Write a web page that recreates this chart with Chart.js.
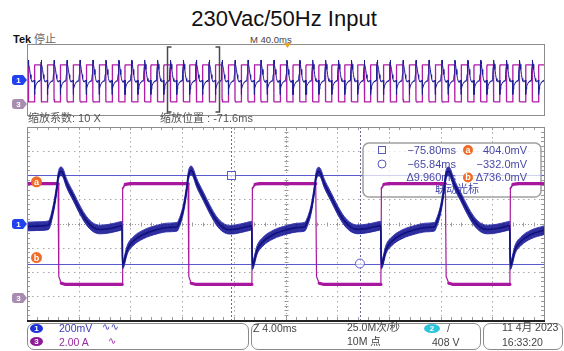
<!DOCTYPE html>
<html>
<head>
<meta charset="utf-8">
<script src="https://cdn.jsdelivr.net/npm/chart.js@4.4.1/dist/chart.umd.min.js"></script>
<style>
  html, body { margin: 0; padding: 0; background: #fff; width: 564px; height: 351px; overflow: hidden;
    font-family: "Liberation Sans", "Noto Sans CJK SC", sans-serif; }
  .t { position: absolute; white-space: nowrap; line-height: 1; }
  .cjk { font-family: "Liberation Sans", "Noto Sans CJK SC", sans-serif; }
  .box { position: absolute; border: 1px solid #8a8a8a; border-radius: 7px; box-sizing: border-box; background: #fff; }
  .oval { position: absolute; width: 13px; height: 9px; border-radius: 50%; color: #fff; font: bold 8px "Liberation Sans";
    text-align: center; line-height: 9px; }
  canvas { position: absolute; left: 0; }
</style>
</head>
<body>

<div class="t" style="left:0;width:568px;top:8px;text-align:center;font-size:22px;color:#111;">230Vac/50Hz Input</div>
<div class="t" style="left:13px;top:34px;font-size:11px;font-weight:bold;color:#111;">Tek</div>
<div class="t cjk" style="left:34px;top:34px;font-size:11px;color:#666;">停止</div>
<div class="t" style="left:250px;top:35px;font-size:9.5px;color:#444;">M 40.0ms</div>

<canvas id="overview" width="564" height="80" style="top:40px"></canvas>

<div class="t cjk" style="left:28px;top:113px;font-size:11px;color:#555;">缩放系数: 10 X</div>
<div class="t cjk" style="left:160px;top:113px;font-size:11px;color:#555;">缩放位置 : -71.6ms</div>

<canvas id="zoomView" width="564" height="206" style="top:120px"></canvas>

<!-- status bar -->
<div class="box" style="left:27px;top:323px;width:222px;height:27px;"></div>
<div class="box" style="left:251px;top:323px;width:230px;height:27px;"></div>
<div class="box" style="left:483px;top:323px;width:80px;height:27px;"></div>

<div class="oval" style="left:30px;top:324px;background:#1c33d8;">1</div>
<div class="t" style="left:59px;top:323px;font-size:10.5px;color:#3a3ab8;">200mV</div>
<div class="t" style="left:102px;top:322px;font-size:10px;color:#3a3ab8;font-family:'DejaVu Sans';">∿∿</div>
<div class="oval" style="left:30px;top:337px;background:#8e1a9a;">3</div>
<div class="t" style="left:59px;top:337px;font-size:10.5px;color:#9a2aa0;">2.00 A</div>
<div class="t" style="left:108px;top:336px;font-size:10px;color:#9a2aa0;font-family:'DejaVu Sans';">∿</div>

<div class="t" style="left:253px;top:323px;font-size:10.5px;color:#444;">Z 4.00ms</div>
<div class="t cjk" style="left:347px;top:322px;font-size:10.5px;color:#444;">25.0M次/秒</div>
<div class="t cjk" style="left:347px;top:336px;font-size:10.5px;color:#444;">10M 点</div>
<div class="oval" style="left:424px;top:324px;width:16px;background:#2ec5dc;">2</div>
<div class="t" style="left:447px;top:323px;font-size:10.5px;color:#444;">/</div>
<div class="t" style="left:432px;top:337px;font-size:10.5px;color:#444;">408 V</div>

<div class="t cjk" style="left:502px;top:322px;font-size:10.5px;color:#444;">11 4月 2023</div>
<div class="t" style="left:502px;top:337px;font-size:10.5px;color:#444;">16:33:20</div>

<script>
// Zoomed window: 4 ms/div, 10 divisions, centred on the zoom position
const zoomPosMs = -71.6;
const msPerDiv = 4;
const voltsPerDiv = 0.2;   // CH1 200 mV/div
const ampsPerDiv = 2.0;    // CH3 2.00 A/div
const recordMs = 400;      // main record: 40 ms/div

// CH1 trace (V) over the zoom window
const ch1Ms = [
  -91.60, -90.80, -89.95, -89.57, -89.31,
  -89.18, -89.08, -88.95, -88.80, -88.56, -88.02, -87.48, -87.01, -86.47, -85.93, -85.16, -84.38, -84.25,
  -84.21, -84.13, -83.84, -83.38, -82.61, -81.53, -80.73, -79.98,
  -79.89, -79.51, -79.25,
  -79.12, -79.02, -78.89, -78.74, -78.50, -77.96, -77.42, -76.95, -76.41, -75.87, -75.10, -74.32, -74.21,
  -74.17, -74.09, -73.80, -73.34, -72.57, -71.49, -70.69, -70.10,
  -70.01, -69.63, -69.37,
  -69.24, -69.14, -69.01, -68.86, -68.62, -68.08, -67.54, -67.07, -66.53, -65.99, -65.22, -64.44, -64.23,
  -64.19, -64.11, -63.82, -63.36, -62.59, -61.51, -60.71, -60.07,
  -59.98, -59.60, -59.34,
  -59.21, -59.11, -58.98, -58.83, -58.59, -58.05, -57.51, -57.04, -56.50, -55.96, -55.19, -54.41, -54.25,
  -54.21, -54.13, -53.84, -53.38, -52.61, -51.60
];
const ch1Volts = [
  -0.025, -0.022, -0.015, 0.116, 0.280,
  0.390, 0.425, 0.432, 0.415, 0.340, 0.224, 0.108, 0.025, -0.033, -0.050, -0.041, -0.021, -0.018,
  -0.340, -0.330, -0.216, -0.147, -0.091, -0.050, -0.033, -0.027,
  -0.012, 0.116, 0.280,
  0.392, 0.430, 0.440, 0.420, 0.345, 0.226, 0.110, 0.024, -0.035, -0.052, -0.040, -0.020, -0.017,
  -0.345, -0.335, -0.220, -0.150, -0.093, -0.052, -0.034, -0.026,
  -0.012, 0.112, 0.275,
  0.387, 0.422, 0.430, 0.412, 0.338, 0.222, 0.106, 0.024, -0.032, -0.049, -0.040, -0.022, -0.018,
  -0.340, -0.330, -0.214, -0.146, -0.090, -0.050, -0.033, -0.027,
  -0.012, 0.116, 0.280,
  0.390, 0.425, 0.432, 0.415, 0.340, 0.224, 0.108, 0.025, -0.033, -0.050, -0.041, -0.021, -0.018,
  -0.345, -0.335, -0.216, -0.147, -0.091, -0.056
];

// CH3 current (A) over the zoom window
const ch3Ms = [
  -91.60, -89.20, -89.14, -88.95, -88.60,
  -84.24, -84.20, -84.00, -83.60,
  -79.14, -79.08, -78.90, -78.50,
  -74.20, -74.16, -73.95, -73.60,
  -69.26, -69.20, -69.00, -68.60,
  -64.22, -64.18, -63.98, -63.60,
  -59.23, -59.17, -58.97, -58.60,
  -54.24, -54.20, -54.00, -53.60, -51.60
];
const ch3Amps = [
  9.3, 9.3, 1.6, 1.05, 0.95,
  0.95, 8.9, 9.25, 9.3,
  9.3, 1.6, 1.05, 0.95,
  0.95, 8.9, 9.25, 9.3,
  9.3, 1.6, 1.05, 0.95,
  0.95, 8.9, 9.25, 9.3,
  9.3, 1.6, 1.05, 0.95,
  0.95, 8.9, 9.25, 9.3, 9.3
];

// Cursor readouts
const cursorSquareMs = -75.80;
const cursorCircleMs = -65.84;
const cursorAVolts = 0.404;
const cursorBVolts = -0.332;
const readoutRows = [
  ['−75.80ms', '404.0mV'],
  ['−65.84ms', '−332.0mV'],
  ['Δ9.960ms', 'Δ736.0mV']
];

// Switching period of the waveform, used for the 400 ms record strip
const periodMs = 10.0;
const cycleFromMs = -84.23, cycleToMs = -74.19;

const zoomStart = zoomPosMs - 5 * msPerDiv;
const zoomEnd = zoomPosMs + 5 * msPerDiv;

// CH1 is drawn as a band of noise around the trace (half-width in volts)
const noiseHalfV = 0.036;

const ch1Pts = ch1Ms.map((t, i) => ({ x: t, y: ch1Volts[i] }));
const ch1Hi = ch1Ms.map((t, i) => ({ x: t, y: ch1Volts[i] + noiseHalfV }));
const ch1Lo = ch1Ms.map((t, i) => ({ x: t, y: ch1Volts[i] - noiseHalfV }));
const ch3Pts = ch3Ms.map((t, i) => ({ x: t, y: ch3Amps[i] }));

// record strip: the captured cycle repeated along the 400 ms record
function recordTrace(ts, vs) {
  const out = [];
  for (let k = -12; k <= 29; k++) {
    ts.forEach((t, i) => {
      if (t >= cycleFromMs && t < cycleToMs) out.push({ x: t + k * periodMs, y: vs[i] });
    });
  }
  return out;
}

const NAVY = '#10107e';
const NAVY_FILL = 'rgba(28,28,150,0.92)';
const NAVY_EDGE = '#3c3cb4';
const MAGENTA = '#a8189f';
const CURSOR = '#5a5ad0';

// stroke width that keeps the vertical thickness constant
function bandWidth(thick, minW) {
  return ctx => {
    const dx = Math.abs(ctx.p1.x - ctx.p0.x), dy = Math.abs(ctx.p1.y - ctx.p0.y);
    const s = dx < 0.01 ? 100 : dy / dx;
    return Math.max(minW, thick / Math.sqrt(1 + s * s));
  };
}

function drawTag(ctx, xTip, y, color, label) {
  ctx.save();
  ctx.fillStyle = color;
  const x0 = xTip - 15, h = 5;
  ctx.beginPath();
  ctx.moveTo(x0 + 3, y - h);
  ctx.lineTo(xTip - 4, y - h);
  ctx.lineTo(xTip, y);
  ctx.lineTo(xTip - 4, y + h);
  ctx.lineTo(x0 + 3, y + h);
  ctx.quadraticCurveTo(x0, y + h, x0, y + h - 3);
  ctx.lineTo(x0, y - h + 3);
  ctx.quadraticCurveTo(x0, y - h, x0 + 3, y - h);
  ctx.fill();
  ctx.fillStyle = '#fff';
  ctx.font = 'bold 8px "Liberation Sans"';
  ctx.textAlign = 'center';
  ctx.textBaseline = 'middle';
  ctx.fillText(label, x0 + 6.5, y + 0.5);
  ctx.restore();
}

function drawBadge(ctx, x, y, r, color, txt) {
  ctx.save();
  ctx.fillStyle = color;
  ctx.beginPath();
  ctx.arc(x, y, r, 0, Math.PI * 2);
  ctx.fill();
  ctx.fillStyle = '#fff';
  ctx.font = 'bold 9px "Liberation Sans"';
  ctx.textAlign = 'center';
  ctx.textBaseline = 'middle';
  ctx.fillText(txt, x, y + 0.5);
  ctx.restore();
}

function roundRect(ctx, x, y, w, h, r) {
  ctx.beginPath();
  ctx.moveTo(x + r, y);
  ctx.arcTo(x + w, y, x + w, y + h, r);
  ctx.arcTo(x + w, y + h, x, y + h, r);
  ctx.arcTo(x, y + h, x, y, r);
  ctx.arcTo(x, y, x + w, y, r);
  ctx.closePath();
}

// graticule, cursors and readout for the zoom window
const graticule = {
  id: 'graticule',
  beforeDatasetsDraw(chart) {
    const { ctx, chartArea: a, scales } = chart;
    const x = scales.x, yV = scales.yV;
    const L = a.left, R = a.right, T = a.top, B = a.bottom;
    const divW = (R - L) / 10, divH = (B - T) / 8;
    ctx.save();
    ctx.fillStyle = '#a9a9a9';
    for (let i = 1; i < 10; i++) {
      const px = Math.round(x.getPixelForValue(zoomStart + i * msPerDiv));
      if (i === 5) continue;
      for (let k = 1; k < 40; k++) ctx.fillRect(px, Math.round(T + k * divH / 5), 1, 1.5);
    }
    for (let j = 1; j < 8; j++) {
      const py = Math.round(yV.getPixelForValue(-0.8 + j * voltsPerDiv));
      if (j === 4) continue;
      for (let k = 1; k < 100; k++) ctx.fillRect(Math.round(L + k * divW / 10), py, 1.5, 1);
    }
    // centre cross with minor ticks
    const cx = Math.round(x.getPixelForValue(zoomPosMs)) + 0.5;
    const cy = Math.round(yV.getPixelForValue(0)) + 0.5;
    ctx.strokeStyle = '#9a9a9a';
    ctx.lineWidth = 1;
    ctx.beginPath();
    for (let k = 1; k < 50; k++) {
      const px = Math.round(L + k * divW / 5) + 0.5;
      ctx.moveTo(px, cy - 2); ctx.lineTo(px, cy + 2);
      ctx.moveTo(px, T); ctx.lineTo(px, T + 3);
      ctx.moveTo(px, B); ctx.lineTo(px, B - 3);
    }
    for (let k = 1; k < 40; k++) {
      const py = Math.round(T + k * divH / 5) + 0.5;
      ctx.moveTo(cx - 2, py); ctx.lineTo(cx + 2, py);
      ctx.moveTo(L, py); ctx.lineTo(L + 3, py);
      ctx.moveTo(R, py); ctx.lineTo(R - 3, py);
    }
    ctx.stroke();
    ctx.setLineDash([1, 2]);
    ctx.beginPath();
    ctx.moveTo(L, cy); ctx.lineTo(R, cy);
    ctx.moveTo(cx, T); ctx.lineTo(cx, B);
    ctx.stroke();

    // vertical cursors (dashed)
    ctx.strokeStyle = '#6a6a9a';
    ctx.setLineDash([2, 2]);
    ctx.beginPath();
    [cursorSquareMs, cursorCircleMs].forEach(t => {
      const px = Math.round(x.getPixelForValue(t)) + 0.5;
      ctx.moveTo(px, T); ctx.lineTo(px, B);
    });
    ctx.stroke();
    ctx.setLineDash([]);

    // horizontal cursors (solid)
    ctx.strokeStyle = CURSOR;
    ctx.beginPath();
    [cursorAVolts, cursorBVolts].forEach(v => {
      const py = Math.round(yV.getPixelForValue(v)) + 0.5;
      ctx.moveTo(L, py); ctx.lineTo(R, py);
    });
    ctx.stroke();

    // cursor readout panel
    const bx = 363, by = 143 - 120, bw = 178, bh = 54;
    roundRect(ctx, bx, by, bw, bh, 6);
    ctx.fillStyle = 'rgba(255,255,255,0.72)';
    ctx.fill();
    ctx.strokeStyle = '#a0a0a0';
    ctx.lineWidth = 1.5;
    ctx.stroke();
    ctx.lineWidth = 1;
    const rowY = [150 - 120, 164 - 120, 177.5 - 120];
    ctx.fillStyle = '#4848a8';
    ctx.font = '11px "Liberation Sans"';
    ctx.textBaseline = 'middle';
    readoutRows.forEach((row, i) => {
      ctx.textAlign = 'right';
      ctx.fillText(row[0], 456, rowY[i] + 0.5);
      ctx.fillText(row[1], 527, rowY[i] + 0.5);
    });
    ctx.strokeStyle = '#5a5ab8';
    ctx.strokeRect(378.5, rowY[0] - 3.5, 7, 7);
    ctx.beginPath();
    ctx.arc(382, rowY[1], 4, 0, Math.PI * 2);
    ctx.stroke();
    drawBadge(ctx, 468, rowY[0], 5, '#f06a28', 'a');
    drawBadge(ctx, 468, rowY[2], 5, '#f06a28', 'b');
    ctx.fillStyle = '#4848a8';
    ctx.textAlign = 'center';
    ctx.font = '11px "Noto Sans CJK SC"';
    ctx.fillText('联动光标', 457, 188.5 - 120);
    ctx.restore();
  },
  afterDatasetsDraw(chart) {
    const { ctx, chartArea: a, scales } = chart;
    const x = scales.x, yV = scales.yV, yI = scales.yI;
    ctx.save();
    // frame
    ctx.strokeStyle = '#8c8c8c';
    ctx.lineWidth = 1;
    ctx.strokeRect(Math.round(a.left) + 0.5, Math.round(a.top) + 0.5, Math.round(a.right - a.left), Math.round(a.bottom - a.top));
    ctx.strokeStyle = '#222';
    ctx.lineWidth = 2;
    ctx.beginPath();
    ctx.moveTo(a.left, Math.round(a.bottom) + 1); ctx.lineTo(a.right + 1, Math.round(a.bottom) + 1);
    ctx.stroke();
    // cursor markers
    ctx.lineWidth = 1;
    ctx.strokeStyle = '#5a5ad0';
    ctx.fillStyle = 'rgba(255,255,255,0.6)';
    const sx = Math.round(x.getPixelForValue(cursorSquareMs)), sy = Math.round(yV.getPixelForValue(cursorAVolts));
    ctx.fillRect(sx - 4, sy - 4, 9, 9);
    ctx.strokeRect(sx - 3.5, sy - 3.5, 8, 8);
    const ox = x.getPixelForValue(cursorCircleMs), oy = yV.getPixelForValue(cursorBVolts);
    ctx.beginPath();
    ctx.arc(ox, oy, 4.5, 0, Math.PI * 2);
    ctx.fill();
    ctx.stroke();
    // channel and cursor tags
    drawTag(ctx, 27, Math.round(yV.getPixelForValue(0)), '#1f42ec', '1');
    drawTag(ctx, 27, Math.round(yI.getPixelForValue(0)) + 2, '#a78bb0', '3');
    drawBadge(ctx, 36.5, yV.getPixelForValue(cursorAVolts) + 7, 5.5, '#f06a28', 'a');
    drawBadge(ctx, 36.5, yV.getPixelForValue(cursorBVolts) - 6, 5.5, '#f06a28', 'b');
    ctx.restore();
  }
};

// frame, zoom bracket and trigger mark on the record strip
const recordFrame = {
  id: 'recordFrame',
  afterDatasetsDraw(chart) {
    const { ctx, chartArea: a, scales } = chart;
    const x = scales.x, yV = scales.yV, yI = scales.yI;
    ctx.save();
    ctx.strokeStyle = '#8c8c8c';
    ctx.lineWidth = 1;
    ctx.strokeRect(Math.round(a.left) + 0.5, Math.round(a.top) + 0.5, Math.round(a.right - a.left), Math.round(a.bottom - a.top));
    // zoom bracket
    const b0 = Math.round(x.getPixelForValue(zoomStart)) + 0.5;
    const b1 = Math.round(x.getPixelForValue(zoomEnd)) + 0.5;
    const top = a.top + 3, bot = a.bottom - 3;
    ctx.strokeStyle = '#4a4a4a';
    ctx.lineWidth = 1.5;
    ctx.beginPath();
    ctx.moveTo(b0 + 4, top); ctx.lineTo(b0, top); ctx.lineTo(b0, bot); ctx.lineTo(b0 + 4, bot);
    ctx.moveTo(b1 - 4, top); ctx.lineTo(b1, top); ctx.lineTo(b1, bot); ctx.lineTo(b1 - 4, bot);
    ctx.stroke();
    // trigger position
    const tx = x.getPixelForValue(0) + 2;
    ctx.fillStyle = '#f0a020';
    ctx.beginPath();
    ctx.moveTo(tx - 3.5, a.top - 1); ctx.lineTo(tx + 3.5, a.top - 1); ctx.lineTo(tx, a.top + 4);
    ctx.closePath();
    ctx.fill();
    drawTag(ctx, 27, Math.round(yV.getPixelForValue(0)), '#1f42ec', '1');
    drawTag(ctx, 27, Math.round(yI.getPixelForValue(0)) - 2, '#a78bb0', '3');
    ctx.restore();
  }
};

const commonScales = (xmin, xmax) => ({
  x: { type: 'linear', min: xmin, max: xmax, display: false },
  yV: { type: 'linear', min: -4 * voltsPerDiv, max: 4 * voltsPerDiv, display: false },
  yI: { type: 'linear', min: -1 * ampsPerDiv, max: 7 * ampsPerDiv, display: false }
});

new Chart(document.getElementById('zoomView'), {
  type: 'line',
  data: {
    datasets: [
      { label: 'CH1', data: ch1Pts, yAxisID: 'yV', borderColor: NAVY, borderWidth: 1.6, pointRadius: 0,
        cubicInterpolationMode: 'monotone', fill: false },
      { label: 'CH1 noise top', data: ch1Hi, yAxisID: 'yV', borderColor: NAVY_EDGE, borderWidth: 1, pointRadius: 0,
        cubicInterpolationMode: 'monotone', fill: '+1', backgroundColor: NAVY_FILL },
      { label: 'CH1 noise bottom', data: ch1Lo, yAxisID: 'yV', borderColor: NAVY_EDGE, borderWidth: 1, pointRadius: 0,
        cubicInterpolationMode: 'monotone', fill: false },
      { label: 'CH3', data: ch3Pts, yAxisID: 'yI', borderColor: MAGENTA, borderWidth: 3, pointRadius: 0,
        tension: 0, borderCapStyle: 'round', borderJoinStyle: 'round',
        segment: { borderWidth: bandWidth(3.2, 1.2) } }
    ]
  },
  options: {
    responsive: false, animation: false, events: [],
    layout: { padding: { left: 27, right: 20, top: 7, bottom: 6 } },
    plugins: { legend: { display: false }, tooltip: { enabled: false }, filler: { propagate: false } },
    scales: commonScales(zoomStart, zoomEnd)
  },
  plugins: [graticule]
});

new Chart(document.getElementById('overview'), {
  type: 'line',
  data: {
    datasets: [
      { label: 'CH1', data: recordTrace(ch1Ms, ch1Volts), yAxisID: 'yV', borderColor: '#1c1c96', borderWidth: 1.5,
        pointRadius: 0, tension: 0, segment: { borderWidth: bandWidth(1.8, 1) } },
      { label: 'CH3', data: recordTrace(ch3Ms, ch3Amps), yAxisID: 'yI', borderColor: '#b01ca8', borderWidth: 1.3,
        pointRadius: 0, tension: 0 }
    ]
  },
  options: {
    responsive: false, animation: false, events: [],
    layout: { padding: { left: 27, right: 20, top: 4, bottom: 5 } },
    plugins: { legend: { display: false }, tooltip: { enabled: false } },
    scales: commonScales(-recordMs / 2, recordMs / 2)
  },
  plugins: [recordFrame]
});
</script>
</body>
</html>
